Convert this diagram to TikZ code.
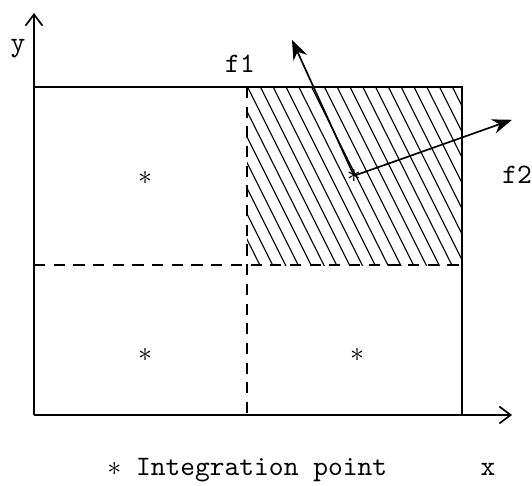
\documentclass[tikz,border=0pt]{standalone}
\usetikzlibrary{arrows.meta}
\begin{document}
\begin{tikzpicture}[scale=0.5, semithick, font=\ttfamily]
  \useasboundingbox (-0.85,-1.75) rectangle (12.45,10.375);
  \coordinate (O) at (0,0);
  \coordinate (X) at (11.95,0);
  \coordinate (Y) at (0,10.05);
  \coordinate (A) at (0,8.2);     % top left
  \coordinate (B) at (10.7,8.2);  % top right
  \coordinate (C) at (10.7,0);    % bottom right
  \coordinate (M) at (5.33,3.75); % dashed lines cross
  \coordinate (Mt) at (5.33,8.2);
  \coordinate (Mb) at (5.33,0);
  \coordinate (Ml) at (0,3.75);
  \coordinate (Mr) at (10.7,3.75);
  \coordinate (T1) at (6.45,9.38); % tip f1
  \coordinate (T2) at (11.95,7.38); % tip f2

  % hatched quarter
  \begin{scope}
    \clip (M) rectangle (B);
    \foreach \s in {3.1,3.42,...,10.8}
      \draw[thin] (\s,8.2) -- ++(2.3,-4.6);
  \end{scope}

  % axes
  \draw[-{Straight Barb[length=4pt,width=6pt]}] (O) -- (X);
  \draw[-{Straight Barb[length=4pt,width=6pt]}] (O) -- (Y);

  % box
  \draw (A) -- (B) -- (C);
  \draw[dash pattern=on 4pt off 3pt] (Mt) -- (Mb);
  \draw[dash pattern=on 4pt off 3pt] (Ml) -- (Mr);

  % integration points
  \node[inner sep=0] (P1) at (2.78,5.93) {$\ast$};
  \node[inner sep=0] (P2) at (2.78,1.5) {$\ast$};
  \node[inner sep=0] (P3) at (8.08,1.5) {$\ast$};
  \node[inner sep=0] (P4) at (8.0,5.98) {$\ast$};

  % forces
  \draw[-{Stealth[length=7pt]}] (P4.center) -- (T1);
  \draw[-{Stealth[length=7pt]}] (P4.center) -- (T2);

  \node (f1) at (5.15,8.78) {f1};
  \node (f2) at (12.08,6.0) {f2};
  \node (ylab) at (-0.4,9.15) {y};
  \node (xlab) at (11.35,-1.37) {x};
  \node (legend) at (5.33,-1.37) {$\ast$ Integration point};
\end{tikzpicture}
\end{document}
